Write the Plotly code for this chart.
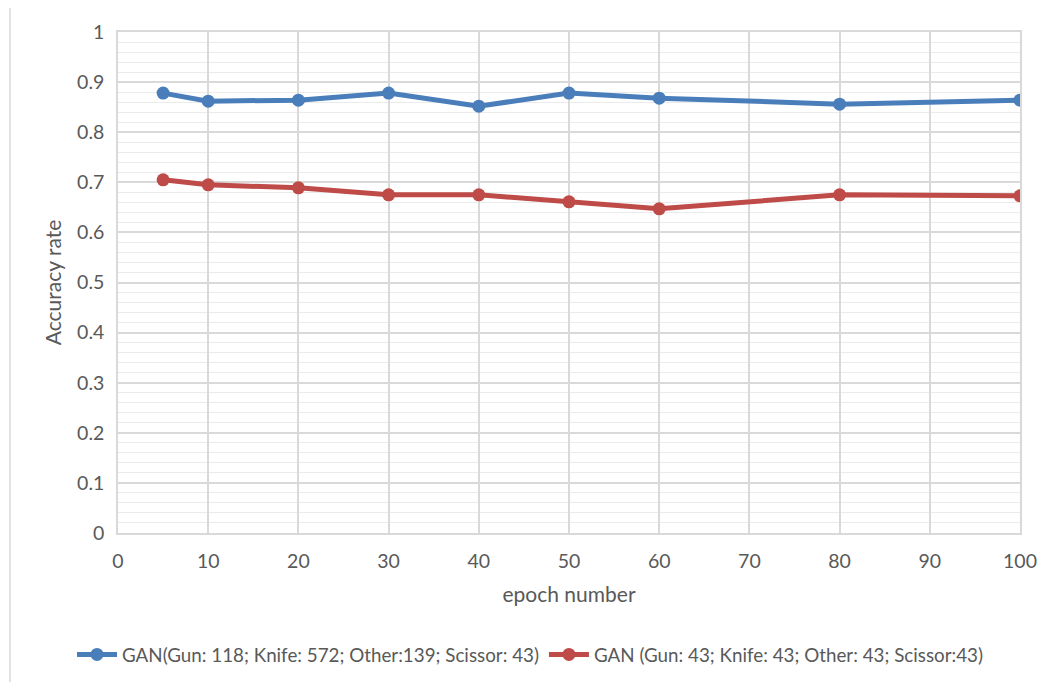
import plotly.graph_objects as go

epochs = [5, 10, 20, 30, 40, 50, 60, 80, 100]
gan_imbalanced = [0.878, 0.862, 0.864, 0.878, 0.852, 0.878, 0.868, 0.856, 0.864]
gan_balanced = [0.705, 0.695, 0.689, 0.675, 0.675, 0.661, 0.647, 0.675, 0.673]
name_imbalanced = "GAN(Gun: 118; Knife: 572; Other:139; Scissor: 43)"
name_balanced = "GAN (Gun: 43; Knife: 43; Other: 43; Scissor:43)"

FONT = "Lato, Calibri, sans-serif"
TICK = "#595959"

fig = go.Figure()
fig.add_trace(go.Scatter(x=epochs, y=gan_imbalanced, mode="lines+markers", name=name_imbalanced,
                         line=dict(color="#4a7ebb", width=5), marker=dict(size=13, color="#4a7ebb")))
fig.add_trace(go.Scatter(x=epochs, y=gan_balanced, mode="lines+markers", name=name_balanced,
                         line=dict(color="#be4b48", width=5), marker=dict(size=13, color="#be4b48")))

fig.update_layout(
    width=1051, height=682,
    margin=dict(l=110, r=39, t=24, b=157, autoexpand=False),
    paper_bgcolor="white", plot_bgcolor="white",
    font=dict(family=FONT, size=19, color=TICK),
    showlegend=True,
    legend=dict(orientation="h", x=(72 - 118) / 902, xanchor="left", y=-0.243, yanchor="middle",
                font=dict(family=FONT, size=18.8, color=TICK), itemwidth=40, tracegroupgap=0),
    xaxis=dict(range=[0, 100], dtick=10, tick0=0, showgrid=True, gridcolor="#d9d9d9", gridwidth=1.5,
               zeroline=False, showline=True, linecolor="#d9d9d9", linewidth=1.5, mirror=True,
               ticks="", ticklabelstandoff=10,
               title=dict(text="epoch number", font=dict(size=21, color=TICK), standoff=16),
               tickfont=dict(size=19.5, color=TICK)),
    yaxis=dict(range=[0, 1], dtick=0.1, tick0=0, showgrid=True, gridcolor="#d9d9d9", gridwidth=1.5,
               zeroline=False, showline=True, linecolor="#d9d9d9", linewidth=1.5, mirror=True,
               ticks="", ticklabelstandoff=8,
               minor=dict(dtick=0.02, showgrid=True, gridcolor="#ebebeb", gridwidth=1),
               title=dict(text="Accuracy rate", font=dict(size=21, color=TICK), standoff=10),
               tickfont=dict(size=19.5, color=TICK)),
    shapes=[dict(type="rect", xref="paper", yref="paper",
                 x0=(10 - 118) / 902, x1=1.2, y0=-0.5, y1=(533 - 7) / 501,
                 line=dict(color="#d9d9d9", width=1.5), fillcolor="rgba(0,0,0,0)", layer="below")],
)

fig.write_html("out.html")
